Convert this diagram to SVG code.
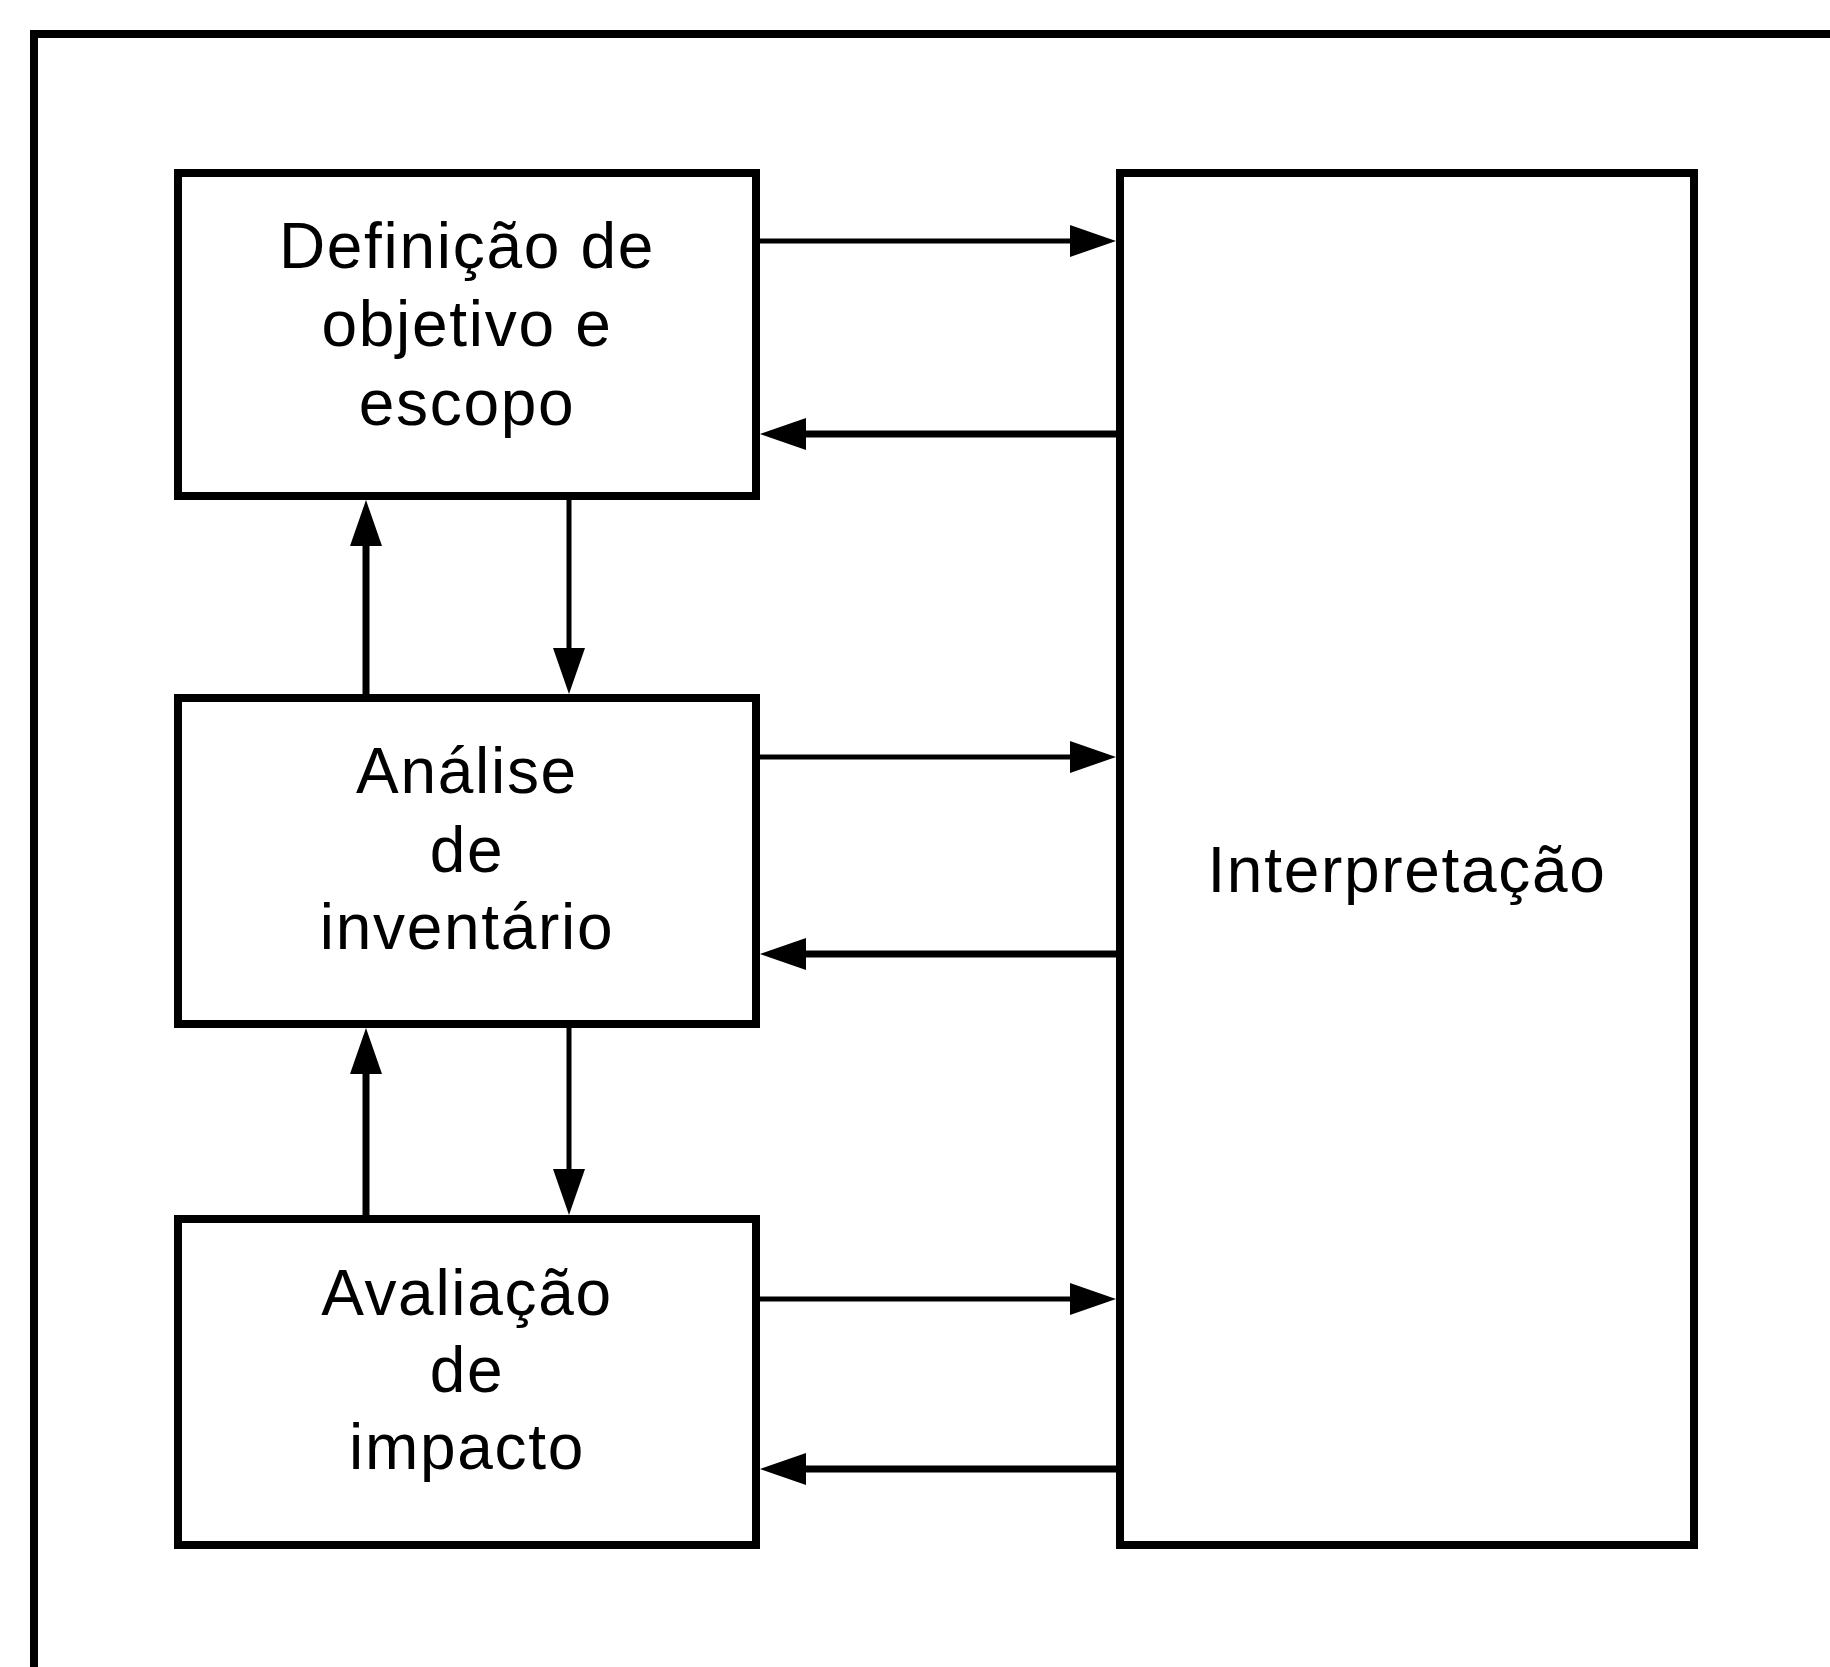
<svg xmlns="http://www.w3.org/2000/svg" width="1830" height="1667" viewBox="0 0 1830 1667">
  <style>
    .box { fill: #ffffff; stroke: #000000; stroke-width: 8; }
    .frame { fill: none; stroke: #000000; stroke-width: 8; }
    .label { font-family: "Liberation Sans", Arial, sans-serif; font-size: 64px; letter-spacing: 1.7px; fill: #000000; text-anchor: middle; }
    .conn { fill: none; stroke: #000000; }
    .thin { stroke-width: 5; }
    .thick { stroke-width: 7; }
  </style>
  <defs>
    <marker id="head" markerUnits="userSpaceOnUse" markerWidth="46" markerHeight="32" refX="34" refY="16" orient="auto">
      <path d="M0,0 L46,16 L0,32 Z" fill="#000000"/>
    </marker>
  </defs>

  <rect width="1830" height="1667" fill="#ffffff"/>

  <!-- outer frame, open to the right and bottom -->
  <path class="frame" d="M34,1680 V34 H1840"/>

  <g id="definicao">
    <rect class="box" x="178" y="173" width="578" height="323"/>
    <text class="label" x="467" y="268">Definição de</text>
    <text class="label" x="467" y="346">objetivo e</text>
    <text class="label" x="467" y="425">escopo</text>
  </g>

  <g id="inventario">
    <rect class="box" x="178" y="698" width="578" height="326"/>
    <text class="label" x="467" y="793">Análise</text>
    <text class="label" x="467" y="872">de</text>
    <text class="label" x="467" y="949">inventário</text>
  </g>

  <g id="impacto">
    <rect class="box" x="178" y="1219" width="578" height="326"/>
    <text class="label" x="467" y="1315">Avaliação</text>
    <text class="label" x="467" y="1392">de</text>
    <text class="label" x="467" y="1469">impacto</text>
  </g>

  <g id="interpretacao">
    <rect class="box" x="1120" y="173" width="574" height="1372"/>
    <text class="label" x="1407" y="892">Interpretação</text>
  </g>

  <g id="connectors">
    <!-- phases to interpretation -->
    <line class="conn thin" x1="760" y1="241" x2="1104" y2="241" marker-end="url(#head)"/>
    <line class="conn thin" x1="760" y1="757" x2="1104" y2="757" marker-end="url(#head)"/>
    <line class="conn thin" x1="760" y1="1299" x2="1104" y2="1299" marker-end="url(#head)"/>
    <!-- interpretation back to phases -->
    <line class="conn thick" x1="1116" y1="434" x2="772" y2="434" marker-end="url(#head)"/>
    <line class="conn thick" x1="1116" y1="954" x2="772" y2="954" marker-end="url(#head)"/>
    <line class="conn thick" x1="1116" y1="1469" x2="772" y2="1469" marker-end="url(#head)"/>
    <!-- between phases -->
    <line class="conn thick" x1="366" y1="694" x2="366" y2="512" marker-end="url(#head)"/>
    <line class="conn thin" x1="569" y1="500" x2="569" y2="682" marker-end="url(#head)"/>
    <line class="conn thick" x1="366" y1="1215" x2="366" y2="1040" marker-end="url(#head)"/>
    <line class="conn thin" x1="569" y1="1028" x2="569" y2="1203" marker-end="url(#head)"/>
  </g>
</svg>
